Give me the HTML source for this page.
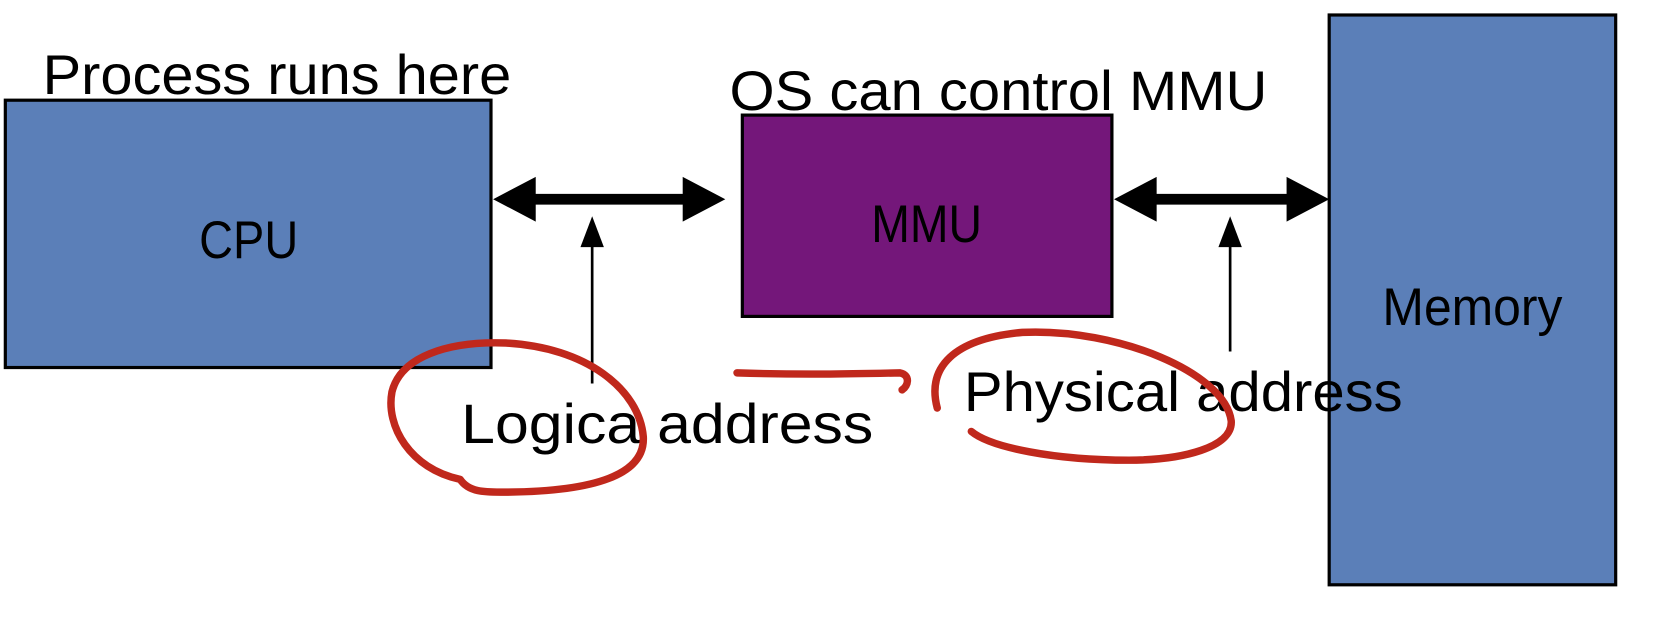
<!DOCTYPE html>
<html><head><meta charset="utf-8"><style>html,body{margin:0;padding:0;background:#fff}svg{display:block}</style></head>
<body>
<svg width="1670" height="636" viewBox="0 0 1568 597" xmlns="http://www.w3.org/2000/svg" font-family="Liberation Sans, sans-serif">
<rect x="5" y="94" width="456" height="251" fill="#5b7fb8" stroke="#000" stroke-width="3"/>
<rect x="697" y="108" width="347" height="189" fill="#74177a" stroke="#000" stroke-width="3"/>
<rect x="1248" y="14" width="269" height="535" fill="#5b7fb8" stroke="#000" stroke-width="3"/>
<text x="40" y="88" font-size="52" textLength="440" lengthAdjust="spacingAndGlyphs">Process runs here</text>
<text x="685" y="103" font-size="52" textLength="505" lengthAdjust="spacingAndGlyphs">OS can control MMU</text>
<text x="187" y="242" font-size="50" textLength="93" lengthAdjust="spacingAndGlyphs">CPU</text>
<text x="818" y="227" font-size="50" textLength="104" lengthAdjust="spacingAndGlyphs">MMU</text>
<text x="1298" y="305" font-size="50" textLength="169" lengthAdjust="spacingAndGlyphs">Memory</text>
<polygon points="463,187 503,166 503,182 641,182 641,166 681,187 641,208 641,192 503,192 503,208" fill="#000"/>
<polygon points="1046,187 1086,166 1086,182 1208,182 1208,166 1248,187 1208,208 1208,192 1086,192 1086,208" fill="#000"/>
<line x1="556" y1="360" x2="556" y2="225" stroke="#000" stroke-width="2.5"/>
<polygon points="556,203 545,232 567,232" fill="#000"/>
<line x1="1155" y1="330" x2="1155" y2="225" stroke="#000" stroke-width="2.5"/>
<polygon points="1155,203 1144,232 1166,232" fill="#000"/>
<text x="433" y="416" font-size="52" textLength="387" lengthAdjust="spacingAndGlyphs">Logica  address</text>
<text x="905" y="386" font-size="52" textLength="412" lengthAdjust="spacingAndGlyphs">Physical address</text>
<g fill="none" stroke="#c0281c" stroke-width="7" stroke-linecap="round">
<path d="M432,450 C385,440 362,400 368,368 C376,335 420,320 475,322 C550,326 600,365 604,410 C606,445 560,462 470,462 C455,462 440,462 432,450"/>
<path d="M692,350 C750,352 800,351 845,350 C855,352 853,362 847,366"/>
<path d="M880,383 C870,345 895,318 960,312 C1050,308 1150,350 1156,395 C1158,420 1110,432 1060,432 C990,432 930,420 912,405"/>
</g>
</svg>
</body></html>
